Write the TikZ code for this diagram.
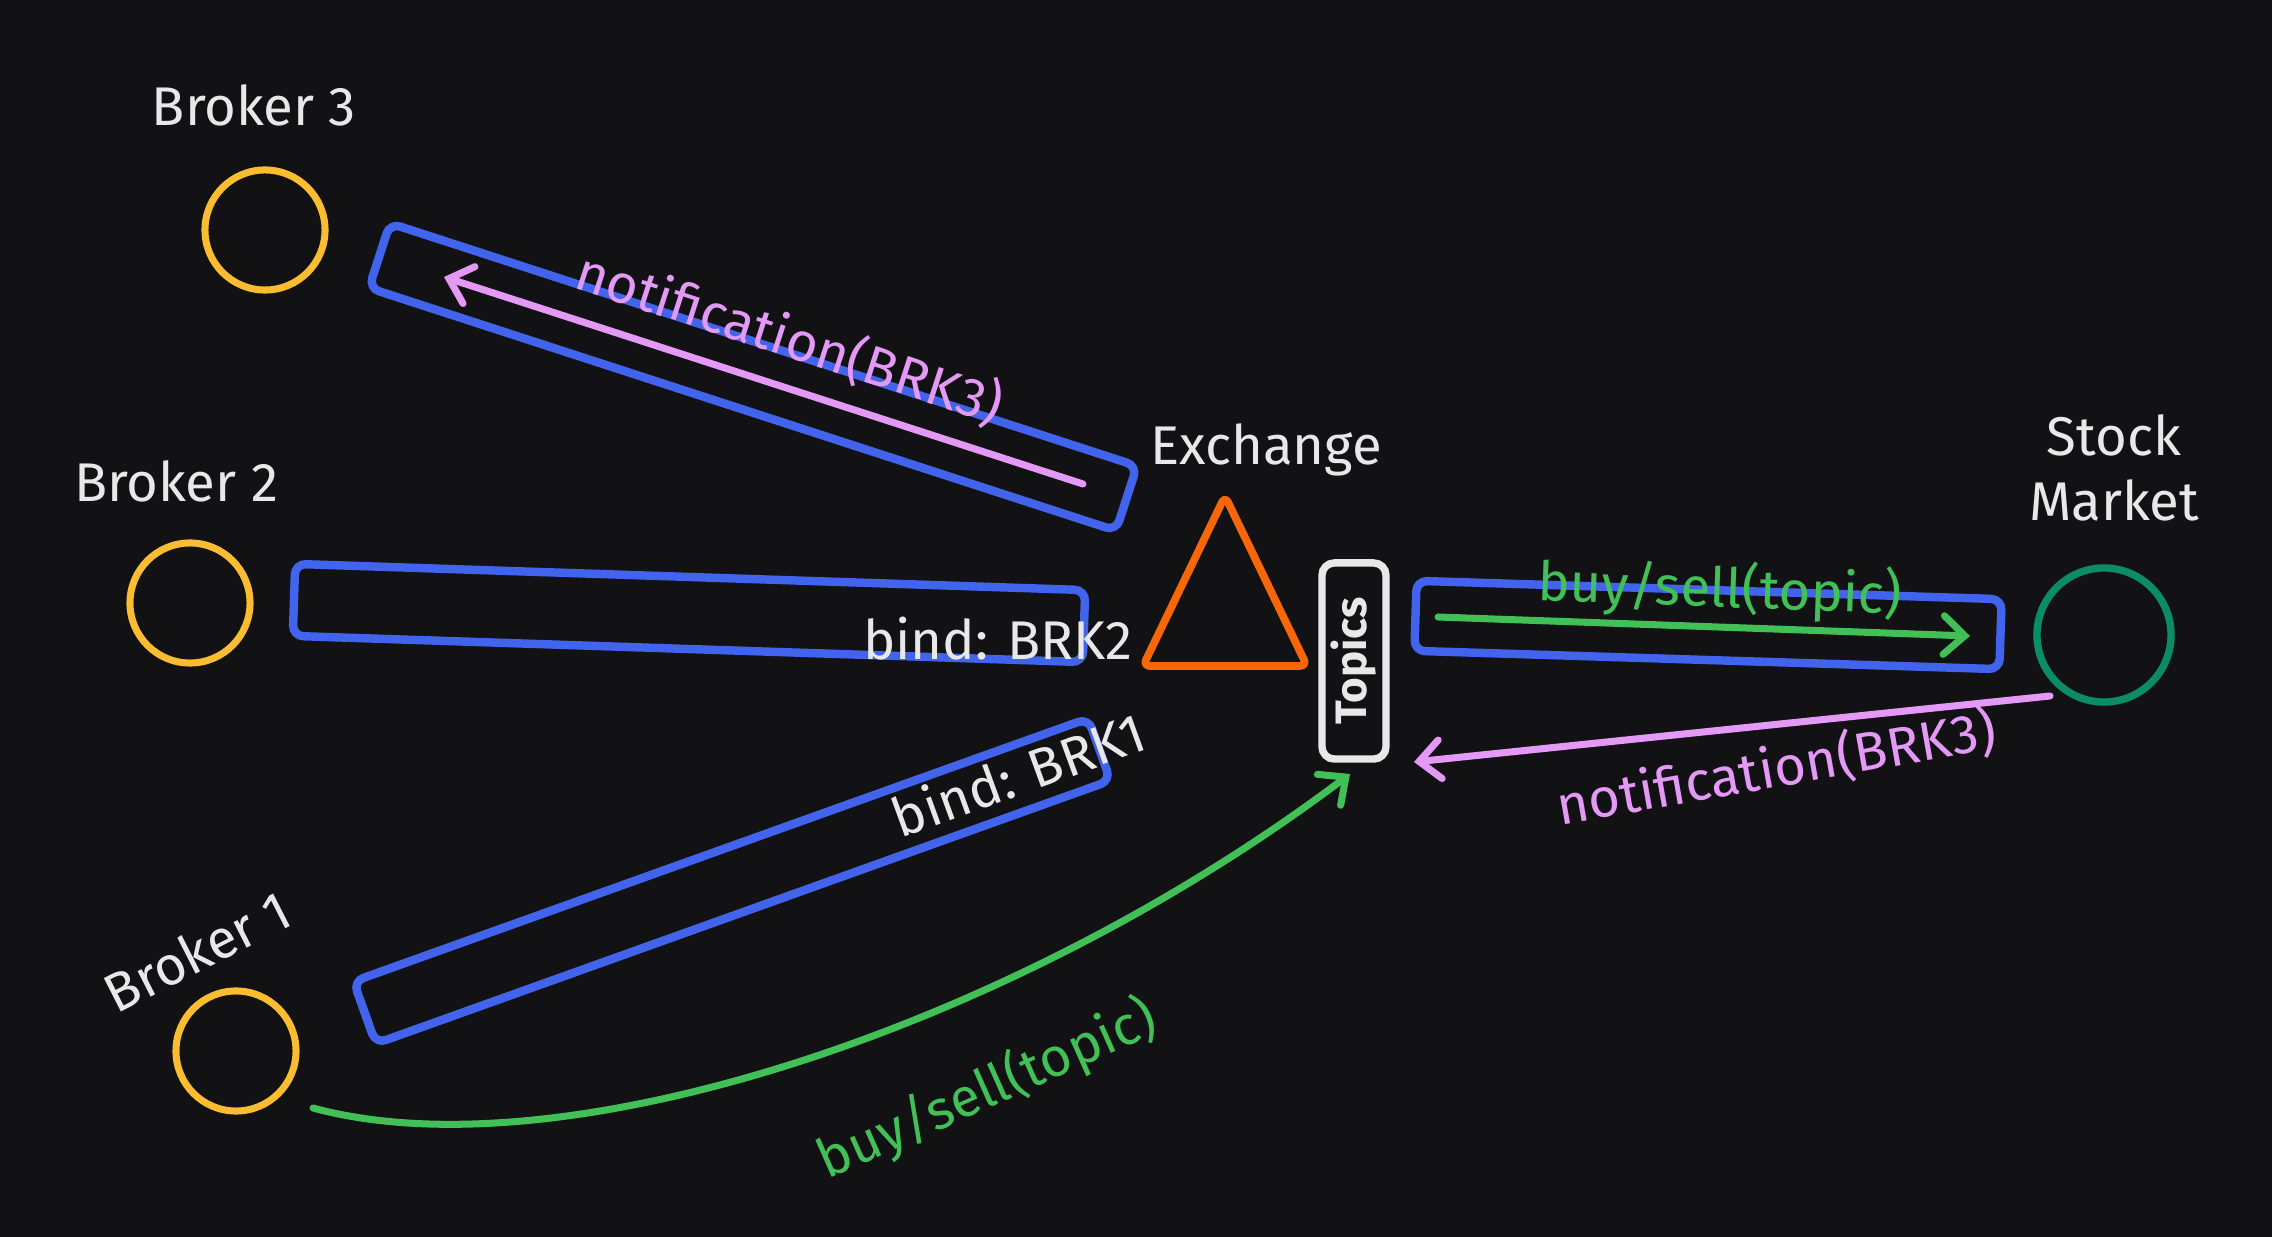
\documentclass[tikz,border=0pt]{standalone}
\usepackage{fontspec}
\setmainfont{Fira Sans}
\usepackage{tikz}
\usepackage{xcolor}
\usetikzlibrary{positioning, arrows.meta}
\definecolor{bgdark}{RGB}{18, 18, 20}
\definecolor{brkyellow}{RGB}{250, 188, 48}
\definecolor{qblue}{RGB}{66, 99, 235}
\definecolor{exorange}{RGB}{247, 103, 7}
\definecolor{msggreen}{RGB}{64, 192, 87}
\definecolor{msgpink}{RGB}{229, 153, 247}
\definecolor{mktteal}{RGB}{12, 140, 100}
\definecolor{txtwhite}{RGB}{232, 232, 232}
\tikzset{
    lbl/.style={text=txtwhite, font=\fontsize{15.5}{18.5}\selectfont, inner sep=0pt},
    greenlbl/.style={lbl, text=msggreen},
    pinklbl/.style={lbl, text=msgpink},
    brknode/.style={circle, draw=brkyellow, line width=2pt, minimum size=1.2cm, inner sep=0pt},
    mktnode/.style={circle, draw=mktteal, line width=2.1pt, minimum size=1.34cm, inner sep=0pt},
    queuebox/.style={draw=qblue, line width=2.4pt, rounded corners=3pt, minimum height=0.68cm, inner sep=0pt},
    topicbox/.style={draw=txtwhite, line width=2.1pt, rounded corners=3.5pt, minimum width=0.64cm, minimum height=1.96cm, inner sep=0pt},
    msgline/.style={line width=2pt, line cap=round, -{Straight Barb[length=6pt, width=11pt, line cap=round]}},
    greenmsg/.style={msgline, msggreen},
    pinkmsg/.style={msgline, msgpink}
}

\begin{document}
\begin{tikzpicture}[x=0.01cm, y=-0.01cm]
    \fill[bgdark] (0,0) rectangle (2272,1237);
    \useasboundingbox (0,0) rectangle (2272,1237);

    \node[brknode] (b3) at (265,230) {};
    \node[brknode] (b2) at (190,603) {};
    \node[brknode] (b1) at (236,1051) {};
    \node[mktnode] (mkt) at (2104,635) {};
    \node[lbl] (b3lbl) at (254,105) {Broker 3};
    \node[lbl] (b2lbl) at (176,481) {Broker 2};
    \node[lbl, rotate=27] (b1lbl) at (197,951) {Broker 1};
    \node[lbl, align=center] (mktlbl) at (2114,468) {Stock\\Market};

    \node[queuebox, minimum width=7.85cm, rotate=-18] (q3) at (753,377) {};
    \node[queuebox, minimum width=7.9cm, minimum height=0.72cm, rotate=-1.9] (q2) at (689,613) {};
    \node[queuebox, minimum width=7.8cm, minimum height=0.66cm, rotate=19.7] (q1) at (732,881) {};
    \node[queuebox, minimum width=5.85cm, minimum height=0.7cm, rotate=-1.8] (qm) at (1708,625) {};

    \draw[exorange, line width=2.2pt, rounded corners=2pt, line join=round]
        (1225,496) -- (1307,666) -- (1143,666) -- cycle;
    \node[lbl] (exlbl) at (1266,450) {Exchange};
    \node[topicbox] (topics) at (1354,661) {};
    \node[lbl, font=\fontsize{12.5}{15}\selectfont\bfseries, rotate=90] (topicslbl) at (topics.center) {Topics};

    \coordinate (n3from) at (1083,484);
    \coordinate (n3to) at (444,277);
    \coordinate (bsfrom) at (1438,617);
    \coordinate (bsto) at (1970,636);
    \coordinate (nmfrom) at (2050,696);
    \coordinate (nmto) at (1414,762);
    \coordinate (b1from) at (313,1108);
    \coordinate (b1to) at (1350,774);

    \draw[pinkmsg] (n3from) -- (n3to);
    \draw[greenmsg] (bsfrom) -- (bsto);
    \draw[pinkmsg] (nmfrom) -- (nmto);
    \draw[greenmsg] (b1from) .. controls (560,1175) and (1010,1030) .. (b1to);

    \node[pinklbl, rotate=-18] (n3lbl) at (790,338) {notification(BRK3)};
    \node[lbl] (bind2) at (998,639) {bind: BRK2};
    \node[lbl, rotate=20] (bind1) at (1018,774) {bind: BRK1};
    \node[greenlbl, rotate=-2] (bsrlbl) at (1720,590) {buy/sell(topic)};
    \node[pinklbl, rotate=10] (nmlbl) at (1776,768) {notification(BRK3)};
    \node[greenlbl, rotate=24] (bsllbl) at (987,1090) {buy/sell(topic)};
\end{tikzpicture}
\end{document}
